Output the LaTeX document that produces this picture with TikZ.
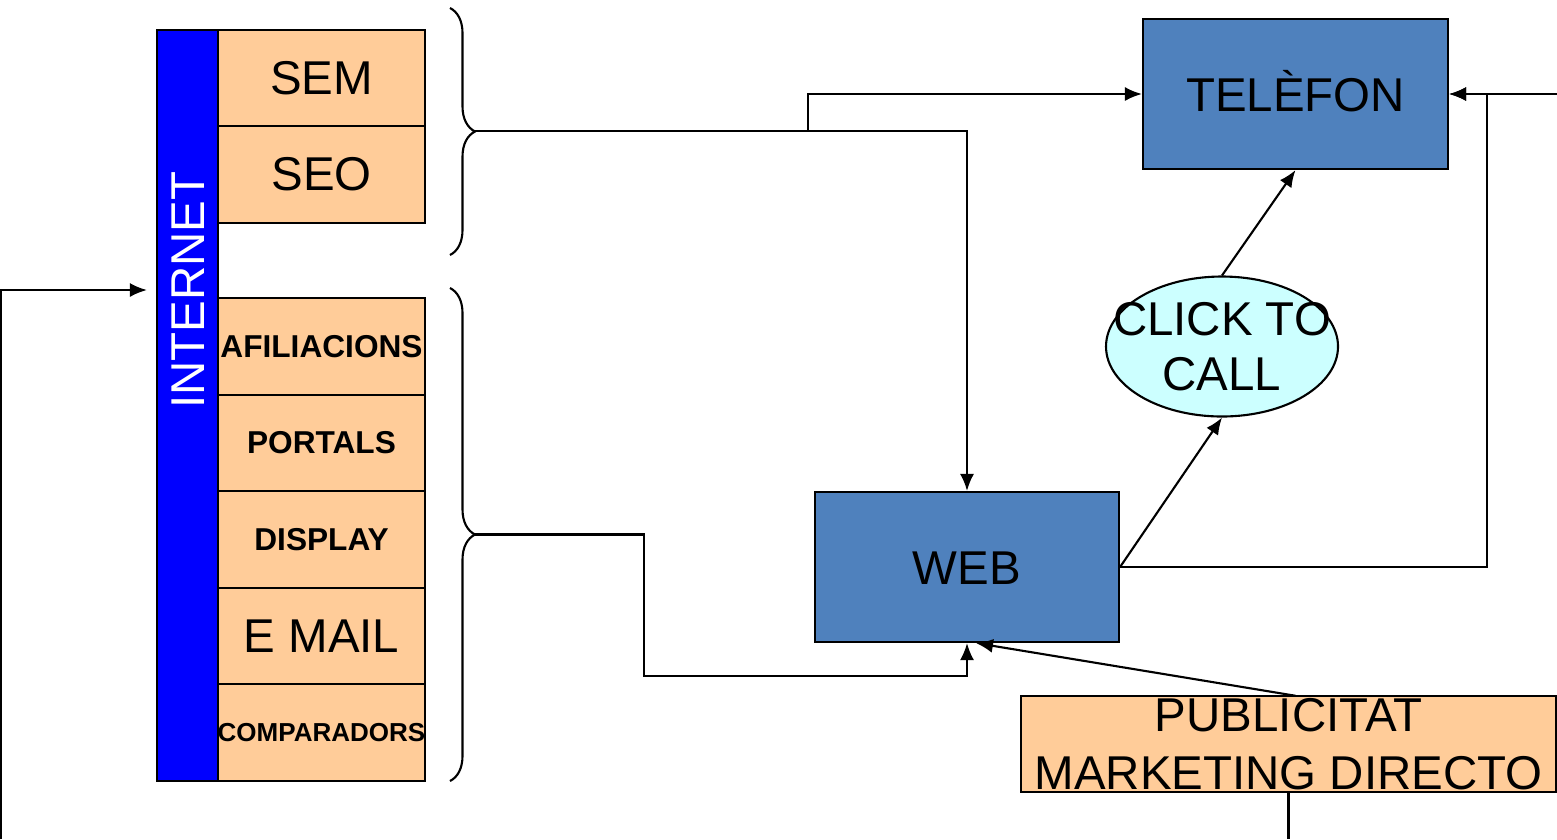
\documentclass[tikz,border=0pt]{standalone}
\usepackage{fontspec}
\setmainfont{Liberation Sans}
\usepackage{tikz}
\usetikzlibrary{arrows.meta,shapes,positioning,calc,decorations.pathreplacing}

\definecolor{taronja}{RGB}{255,204,153}
\definecolor{blaucel}{RGB}{79,129,189}
\definecolor{cian}{RGB}{204,255,255}

\tikzset{
	gran/.style = {font=\fontsize{13.5}{15.6}\selectfont},
	petit/.style = {font=\fontsize{9}{11}\selectfont\bfseries},
	canal/.style = {draw, fill=taronja, rectangle, minimum height=0.965cm, minimum width=2.07cm, inner sep=0pt, outer sep=0pt},
	bloc/.style = {draw, fill=blaucel, rectangle, minimum height=1.5cm, minimum width=3.04cm, text height=0.35cm, text depth=0cm, gran},
	bombolla/.style = {draw, fill=cian, ellipse, minimum width=2.32cm, minimum height=1.40cm, inner sep=0pt},
	tmp/.style = {coordinate},
	clau/.style = {decorate, decoration={brace, amplitude=0.25cm}}
}

\begin{document}
\begin{tikzpicture}[auto,>={Latex[length=0.17cm,width=0.14cm]},line width=0.6pt]
    \useasboundingbox (0,0) rectangle (15.57,-8.39);

    % barra d'internet i canals
    \node [draw, fill=blue, minimum width=0.61cm, minimum height=7.51cm, inner sep=0pt] (internet) at (1.875,-4.055) {};
    \node [rotate=90, text=white, gran, inner sep=0pt] (internettxt) at (1.885,-2.90) {INTERNET};

    \node [canal, gran] (sem) at (3.215,-0.78) {SEM};
    \node [canal, gran, below=0pt of sem] (seo) {SEO};

    \node [canal, petit] (afiliacions) at (3.215,-3.465) {AFILIACIONS};
    \node [canal, petit, below=0pt of afiliacions] (portals) {PORTALS};
    \node [canal, petit, below=0pt of portals] (display) {DISPLAY};
    \node [canal, gran, below=0pt of display] (email) {E MAIL};
    \node [canal, font=\fontsize{7.4}{9}\selectfont\bfseries, below=0pt of email] (comparadors) {\makebox[0pt]{COMPARADORS}};

    \draw [clau] (4.50,-0.08) -- (4.50,-2.55);
    \draw [clau] (4.50,-2.88) -- (4.50,-7.81);
    \node [tmp] (puntaA) at (4.75,-1.31) {};
    \node [tmp] (puntaB) at (4.75,-5.345) {};

    % destins
    \node [bloc] (web) at (9.67,-5.67) {WEB};
    \node [bloc, minimum width=3.05cm] (telefon) at (12.955,-0.94) {TELÈFON};
    \node [bombolla] (click) at (12.22,-3.465) {};
    \node [gran, align=center, inner sep=0pt] (clicktxt) at (click) {CLICK TO\\CALL};
    \node [canal, minimum width=5.35cm, font=\fontsize{13.5}{16.5}\selectfont, align=center] (publicitat) at (12.885,-7.44) {PUBLICITAT\\MARKETING DIRECTO};

    \node [tmp] (entradaesq) at (0.01,-8.39) {};
    \node [tmp] (entradadreta) at (15.57,-0.94) {};
    \node [tmp] (sortidapub) at (12.885,-8.39) {};
    \node [tmp] (desviA) at (8.08,-1.31) {};
    \node [tmp] (colzeB) at (6.44,-6.76) {};
    \node [tmp] (retorn) at (14.87,-0.94) {};

    \draw [->] (puntaA) -| (web.north);
    \draw [->] (desviA) |- (telefon.west);
    \draw [->] (puntaB) -| (colzeB) -| (web.south);
    \draw [->] ([xshift=0.07cm]publicitat.north) -- ([xshift=0.09cm]web.south);
    \draw (publicitat.south) -- (sortidapub);
    \draw [->] (web.east) -- (click.south);
    \draw [->] (click.north) -- (telefon.south);
    \draw [->] (web.east) -| (retorn) -- (telefon.east);
    \draw [->] (entradadreta) -- (telefon.east);
    \draw [->, shorten >=0.09cm] (entradaesq) |- (internet.west |- internettxt);
\end{tikzpicture}
\end{document}
